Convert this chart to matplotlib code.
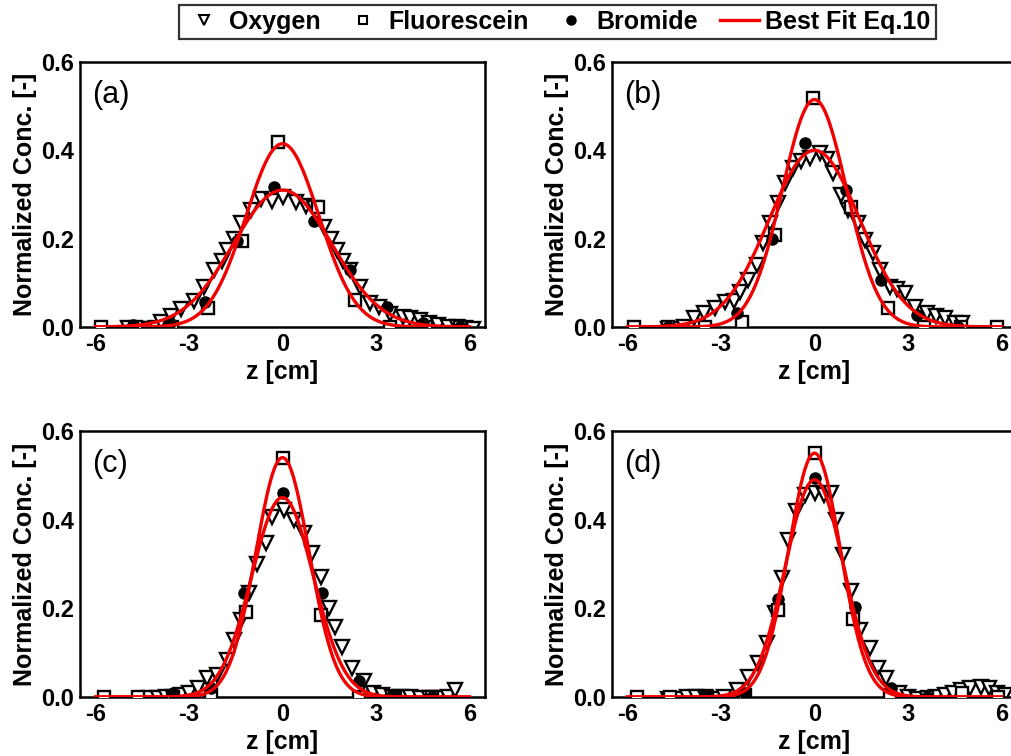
import numpy as np
import matplotlib
matplotlib.use("Agg")
import matplotlib.pyplot as plt
from matplotlib.lines import Line2D

plt.rcParams['font.family'] = ['Liberation Sans', 'DejaVu Sans']

panel_labels = ["(a)", "(b)", "(c)", "(d)"]
x_ticks = [-6, -3, 0, 3, 6]
y_ticks = [0.0, 0.2, 0.4, 0.6]
y_tick_labels = ["0.0", "0.2", "0.4", "0.6"]

# ---- Panel (a) ----
oxy_z_a = [-4.95, -4.65, -4.35, -4.05, -3.9, -3.58, -3.26, -2.84, -2.52, -2.2, -1.95, -1.77,
           -1.55, -1.34, -1.02, -0.7, -0.35, 0.03, 0.42, 0.75, 1.0, 1.32, 1.55, 1.75, 1.95,
           2.18, 2.5, 2.82, 3.1, 3.45, 3.87, 4.1, 4.4, 4.7, 5.0, 5.3, 5.6, 5.85, 6.1]
oxy_y_a = [-0.003, -0.005, -0.005, -0.003, 0.012, 0.025, 0.04, 0.06, 0.091, 0.13, 0.15, 0.174,
           0.2, 0.235, 0.265, 0.29, 0.285, 0.295, 0.284, 0.275, 0.269, 0.227, 0.2, 0.174, 0.15,
           0.129, 0.091, 0.054, 0.045, 0.03, 0.023, 0.02, 0.015, 0.01, 0.005, 0.0, 0.0, -0.002, -0.005]
flu_z_a = [-5.82, -4.7, -3.56, -2.38, -1.3, -0.13, 1.14, 2.34, 3.46, 4.6, 5.7]
flu_y_a = [0.0, 0.0, 0.0, 0.043, 0.195, 0.42, 0.272, 0.061, 0.0, 0.0, 0.0]
bro_z_a = [-4.8, -3.6, -2.5, -1.45, -0.28, 1.0, 2.18, 3.35, 4.5, 5.7]
bro_y_a = [0.005, 0.01, 0.057, 0.195, 0.318, 0.24, 0.13, 0.046, 0.01, 0.0]

# ---- Panel (b) ----
oxy_z_b = [-4.7, -4.45, -4.2, -3.87, -3.55, -3.18, -2.86, -2.6, -2.38, -2.12, -1.85, -1.64,
           -1.43, -1.16, -0.95, -0.68, -0.42, -0.15, 0.17, 0.4, 0.6, 0.85, 1.08, 1.4, 1.61,
           1.88, 2.09, 2.41, 2.65, 2.89, 3.21, 3.6, 3.9, 4.2, 4.5, 4.75]
oxy_y_b = [-0.005, -0.005, 0.0, 0.02, 0.031, 0.042, 0.057, 0.06, 0.08, 0.106, 0.14, 0.19,
           0.235, 0.28, 0.325, 0.36, 0.375, 0.382, 0.393, 0.38, 0.348, 0.3, 0.265, 0.235, 0.197,
           0.167, 0.129, 0.091, 0.085, 0.076, 0.046, 0.031, 0.025, 0.02, 0.01, 0.01]
flu_z_b = [-5.8, -4.7, -3.5, -2.33, -1.27, -0.04, 1.18, 2.35, 3.5, 4.7, 5.87]
flu_y_b = [0.0, 0.0, 0.0, 0.012, 0.208, 0.518, 0.272, 0.042, 0.0, 0.0, 0.0]
bro_z_b = [-4.7, -2.5, -1.35, -0.31, 1.02, 2.14, 3.3, 4.6]
bro_y_b = [0.0, 0.031, 0.2, 0.416, 0.31, 0.106, 0.027, 0.0]

# ---- Panel (c) ----
oxy_z_c = [-4.3, -4.0, -3.75, -3.5, -3.25, -3.0, -2.7, -2.41, -2.1, -1.77, -1.56, -1.34,
           -1.08, -0.81, -0.54, -0.33, 0.04, 0.36, 0.68, 0.95, 1.22, 1.48, 1.7, 1.91, 2.23,
           2.6, 2.9, 3.2, 3.5, 3.8, 4.1, 4.4, 4.7, 5.0, 5.3, 5.55]
oxy_y_c = [-0.003, -0.003, 0.0, 0.0, 0.005, 0.01, 0.02, 0.042, 0.05, 0.083, 0.129, 0.174,
           0.234, 0.3, 0.347, 0.407, 0.422, 0.4, 0.369, 0.324, 0.271, 0.2, 0.159, 0.113, 0.065,
           0.035, 0.01, 0.005, 0.0, 0.0, 0.0, -0.003, -0.003, -0.003, 0.0, 0.015]
flu_z_c = [-5.72, -4.65, -3.5, -2.3, -1.18, 0.0, 1.22, 2.44, 3.6, 4.8]
flu_y_c = [0.0, 0.0, 0.0, 0.005, 0.192, 0.538, 0.185, 0.0, 0.0, 0.0]
bro_z_c = [-3.5, -2.3, -1.24, 0.0, 1.27, 2.44, 3.6, 4.8]
bro_y_c = [0.01, 0.02, 0.234, 0.46, 0.234, 0.035, 0.005, 0.0]

# ---- Panel (d) ----
oxy_z_d = [-4.7, -4.4, -4.1, -3.8, -3.5, -3.2, -2.9, -2.5, -2.12, -1.8, -1.53, -1.27,
           -1.05, -0.84, -0.6, -0.3, 0.0, 0.3, 0.54, 0.7, 0.92, 1.18, 1.45, 1.77, 2.04,
           2.3, 2.72, 3.0, 3.3, 3.6, 3.9, 4.2, 4.45, 4.7, 5.0, 5.34, 5.6, 5.85, 6.1]
oxy_y_d = [-0.005, -0.005, 0.0, 0.0, 0.0, -0.005, 0.0, 0.015, 0.046, 0.076, 0.121, 0.189,
           0.268, 0.354, 0.42, 0.456, 0.46, 0.455, 0.46, 0.399, 0.32, 0.238, 0.151, 0.11, 0.065,
           0.042, 0.01, 0.0, -0.005, -0.005, 0.0, 0.005, 0.01, 0.016, 0.02, 0.023, 0.02, 0.01, 0.005]
flu_z_d = [-5.69, -4.63, -3.46, -2.23, -1.16, 0.0, 1.24, 2.42, 3.6, 4.75, 5.9]
flu_y_d = [0.0, 0.0, 0.0, 0.005, 0.196, 0.55, 0.177, 0.005, 0.0, 0.01, 0.0]
bro_z_d = [-3.46, -2.23, -1.16, 0.0, 1.29, 2.45, 3.6]
bro_y_d = [0.005, 0.01, 0.222, 0.493, 0.204, 0.02, 0.0]

# Best-fit (Eq.10) parameters per panel: [narrow, wide]
fit_amp = [[0.415, 0.31], [0.515, 0.40], [0.54, 0.45], [0.55, 0.49]]
fit_sigma = [[1.17, 1.58], [1.03, 1.46], [0.853, 0.99], [0.83, 0.93]]

oxy_z = [oxy_z_a, oxy_z_b, oxy_z_c, oxy_z_d]
oxy_y = [oxy_y_a, oxy_y_b, oxy_y_c, oxy_y_d]
flu_z = [flu_z_a, flu_z_b, flu_z_c, flu_z_d]
flu_y = [flu_y_a, flu_y_b, flu_y_c, flu_y_d]
bro_z = [bro_z_a, bro_z_b, bro_z_c, bro_z_d]
bro_y = [bro_y_a, bro_y_b, bro_y_c, bro_y_d]

W, H = 1011, 756
fig = plt.figure(figsize=(W / 100, H / 100), dpi=100)

# axes boxes in pixels: (left, top, right, bottom)
boxes = [(80, 62, 485, 327), (612, 62, 1017, 327),
         (80, 431, 485, 697), (612, 431, 1017, 697)]

red = '#f00000'
zfit = np.linspace(-6.0, 6.0, 400)

for i, (l, t, r, b) in enumerate(boxes):
    ax = fig.add_axes([l / W, 1 - b / H, (r - l) / W, (b - t) / H])
    ax.plot(oxy_z[i], oxy_y[i], linestyle='none', marker='v', markersize=10.5,
            markerfacecolor='white', markeredgecolor='black', markeredgewidth=1.7, zorder=2)
    ax.plot(flu_z[i], flu_y[i], linestyle='none', marker='s', markersize=8,
            markerfacecolor='white', markeredgecolor='black', markeredgewidth=1.7, zorder=3)
    ax.plot(bro_z[i], bro_y[i], linestyle='none', marker='o', markersize=8,
            markerfacecolor='black', markeredgecolor='black', zorder=3)
    for A, s in zip(fit_amp[i], fit_sigma[i]):
        ax.plot(zfit, A * np.exp(-zfit ** 2 / (2 * s ** 2)), color=red, lw=2.4, zorder=4)
    ax.set_xlim(-6.5, 6.5)
    ax.set_ylim(0, 0.6)
    ax.set_xticks(x_ticks)
    ax.set_xticklabels([str(v) for v in x_ticks])
    ax.set_yticks(y_ticks)
    ax.set_yticklabels(y_tick_labels)
    ax.tick_params(length=0, pad=4, labelsize=17)
    for lab in ax.get_xticklabels() + ax.get_yticklabels():
        lab.set_fontweight('bold')
    for sp in ax.spines.values():
        sp.set_linewidth(1.8)
    ax.set_xlabel('z [cm]', fontsize=18, fontweight='bold', labelpad=3)
    ax.set_ylabel('Normalized Conc. [-]', fontsize=18, fontweight='bold', labelpad=3)
    ax.text(0.03, 0.875, panel_labels[i], transform=ax.transAxes, fontsize=22,
            ha='left', va='center')

handles = [
    Line2D([], [], linestyle='none', marker='v', markersize=7.5, markerfacecolor='white',
           markeredgecolor='black', markeredgewidth=1.5),
    Line2D([], [], linestyle='none', marker='s', markersize=6, markerfacecolor='white',
           markeredgecolor='black', markeredgewidth=1.5),
    Line2D([], [], linestyle='none', marker='o', markersize=6.5, markerfacecolor='black',
           markeredgecolor='black'),
    Line2D([], [], color=red, lw=2.4),
]
labels = ['Oxygen', 'Fluorescein', 'Bromide', 'Best Fit Eq.10']
leg = fig.legend(handles, labels, loc='upper center', bbox_to_anchor=(557.5 / W, 1 - 5 / H),
                 ncol=4, frameon=True, fancybox=False, edgecolor='black',
                 prop={'weight': 'bold', 'size': 18}, handlelength=1.55, handletextpad=0.25,
                 columnspacing=0.9, borderpad=0.2, borderaxespad=0)
leg.get_frame().set_linewidth(1.6)
leg.legend_handles[3].set_linewidth(2.4)

fig.savefig('out.png', dpi=100)
